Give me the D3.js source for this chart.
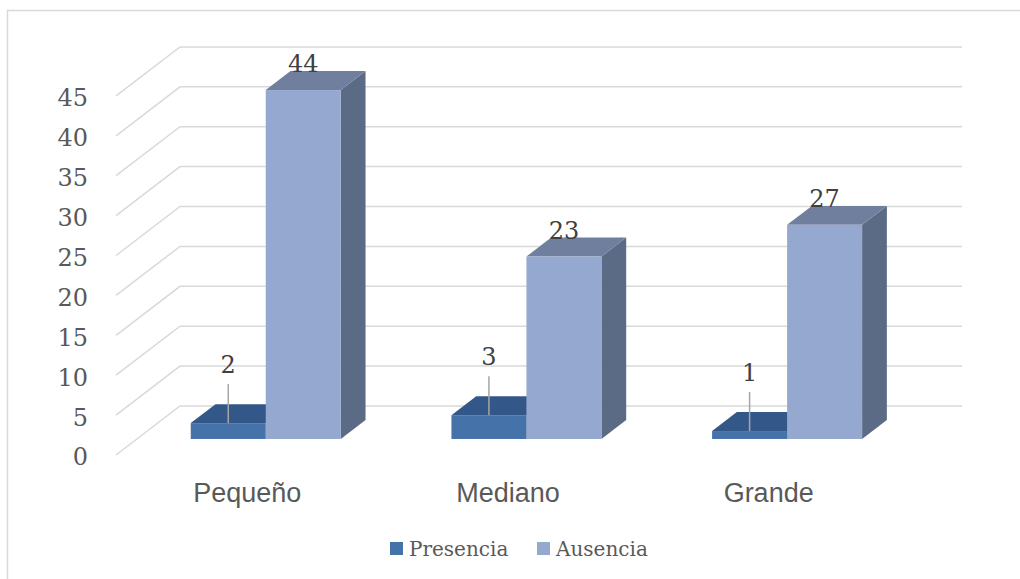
<!DOCTYPE html>
<html lang="en">
<head>
<meta charset="utf-8">
<title>Presencia / Ausencia</title>
<script src="https://cdn.jsdelivr.net/npm/d3@7"></script>
<style>
body { margin: 0; background: #fff; }
.tick-label, .data-label, .legend-label {
  font-family: "DejaVu Serif", serif;
}
.tick-label { font-size: 24px; fill: #595959; }
.data-label { font-size: 24px; fill: #404040; }
.cat-label { font-family: "Liberation Sans", Arial, sans-serif; font-size: 27px; fill: #595959; }
.legend-label { font-size: 20px; fill: #595959; }
.grid { stroke: #d9d9d9; stroke-width: 1.5px; fill: none; }
</style>
</head>
<body>
<script>
// data
var categories = ["Pequeño", "Mediano", "Grande"];
var series = ["Presencia", "Ausencia"];
var presencia = [2, 3, 1];
var ausencia = [44, 23, 27];
var yTicks = [0, 5, 10, 15, 20, 25, 30, 35, 40, 45];

var w = 1020, h = 579;
var svg = d3.select("body").append("svg")
  .attr("width", w)
  .attr("height", h);

// chart border
svg.append("rect")
  .attr("x", 7.5).attr("y", 10.5)
  .attr("width", w + 20).attr("height", h + 20)
  .attr("fill", "#fff")
  .attr("stroke", "#d9d9d9")
  .attr("stroke-width", 1.5);

// 3d depth (oblique)
var depthX = 64, depthY = 49;
var zFront = 0.327, zBack = 0.714;

var x0 = d3.scaleBand().domain(categories).range([116, 898]);
var groupW = 150;
var x1 = d3.scaleBand().domain(series).range([0, groupW]);
var y = d3.scaleLinear().domain([0, 45]).range([455, 455 - 45 * 7.98]);
// bars come out a touch shorter than the wall grid in the original
var yBar = d3.scaleLinear().domain([0, 45]).range([455, 455 - 45 * 7.93]);

function pt(x, v, z, sc) {
  return [x + z * depthX, (sc || y)(v) - z * depthY];
}

// gridlines: back wall + left wall diagonals
var grid = svg.append("g");
yTicks.forEach(function(t) {
  var b = pt(116, t, 1), f = pt(116, t, 0), r = pt(898, t, 1);
  grid.append("path").attr("class", "grid")
    .attr("d", "M" + f + "L" + b + "L" + r);
});

// y tick labels
svg.append("g").selectAll("text")
  .data(yTicks).enter().append("text")
  .attr("class", "tick-label")
  .attr("x", 88)
  .attr("y", function(d) { return y(d) + 2; })
  .attr("dy", "0.35em")
  .attr("text-anchor", "end")
  .text(function(d) { return d; });

var colors = {
  Presencia: { front: "#4572a8", top: "#34578a", side: "#2f4e78" },
  Ausencia:  { front: "#95a9d0", top: "#6f7f9d", side: "#5b6a85" }
};

var bars = [];
categories.forEach(function(c, i) {
  bars.push({ cat: c, s: "Presencia", v: presencia[i] });
  bars.push({ cat: c, s: "Ausencia", v: ausencia[i] });
});

var barG = svg.append("g");
bars.forEach(function(d) {
  var xl = x0(d.cat) + (x0.bandwidth() - groupW) / 2 - 1.5 + x1(d.s);
  var xr = xl + x1.bandwidth();
  var col = colors[d.s];
  var g = barG.append("g");
  var p = function(x, v, z) { return pt(x, v, z, yBar).join(","); };
  // right side
  g.append("path").attr("fill", col.side)
    .attr("d", "M" + p(xr, 0, zFront) + "L" + p(xr, d.v, zFront) + "L" + p(xr, d.v, zBack) + "L" + p(xr, 0, zBack) + "Z");
  // top
  g.append("path").attr("fill", col.top)
    .attr("d", "M" + p(xl, d.v, zFront) + "L" + p(xr, d.v, zFront) + "L" + p(xr, d.v, zBack) + "L" + p(xl, d.v, zBack) + "Z");
  // front
  var a = pt(xl, d.v, zFront, yBar), b = pt(xr, 0, zFront, yBar);
  g.append("rect").attr("fill", col.front)
    .attr("x", a[0]).attr("y", a[1])
    .attr("width", b[0] - a[0]).attr("height", b[1] - a[1]);

  var cx = (a[0] + b[0]) / 2;
  if (d.v < 5) {
    var ly = a[1] - 50;
    g.append("line")
      .attr("x1", cx).attr("x2", cx)
      .attr("y1", ly + 11).attr("y2", a[1])
      .attr("stroke", "#a6a6a6").attr("stroke-width", 1.5);
    g.append("text").attr("class", "data-label")
      .attr("x", cx).attr("y", ly)
      .attr("text-anchor", "middle").text(d.v);
  } else {
    g.append("text").attr("class", "data-label")
      .attr("x", cx).attr("y", a[1] - 18)
      .attr("text-anchor", "middle").text(d.v);
  }
});

// category labels
svg.append("g").selectAll("text")
  .data(categories).enter().append("text")
  .attr("class", "cat-label")
  .attr("x", function(d) { return x0(d) + x0.bandwidth() / 2 + 1; })
  .attr("y", 502)
  .attr("text-anchor", "middle")
  .text(function(d) { return d; });

// legend
var legX = [390, 537];
var leg = svg.append("g").selectAll("g")
  .data(series).enter().append("g")
  .attr("transform", function(d, i) { return "translate(" + legX[i] + ",542)"; });
leg.append("rect").attr("width", 13).attr("height", 13)
  .attr("fill", function(d) { return colors[d].front; });
leg.append("text").attr("class", "legend-label")
  .attr("x", 19).attr("y", 14)
  .text(function(d) { return d; });
</script>
</body>
</html>
